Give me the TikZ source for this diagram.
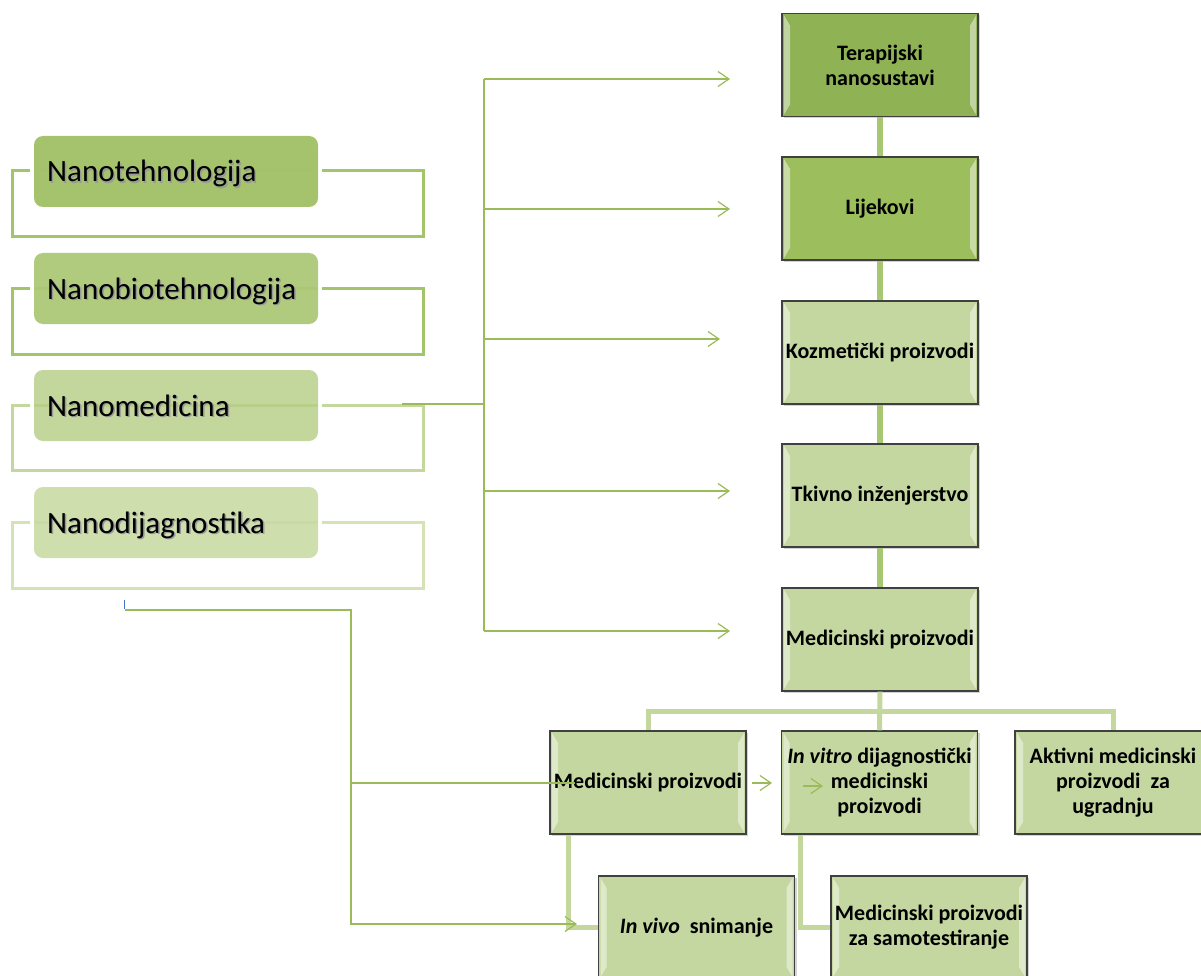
\documentclass[tikz,border=0pt]{standalone}
\usepackage{fontspec}
\setmainfont{Carlito}
\usetikzlibrary{arrows.meta,shadows,calc}
\definecolor{cT}{RGB}{142,178,84}
\definecolor{cL}{RGB}{156,190,92}
\definecolor{cP}{RGB}{196,215,160}
\definecolor{lA}{RGB}{165,194,108}
\definecolor{lB}{RGB}{177,203,126}
\definecolor{lC}{RGB}{195,214,155}
\definecolor{lD}{RGB}{206,222,172}
\definecolor{bA}{RGB}{163,196,104}
\definecolor{bC}{RGB}{196,215,157}
\definecolor{bD}{RGB}{212,226,182}
\definecolor{thinG}{RGB}{155,187,89}
\definecolor{vG}{RGB}{168,199,115}
\definecolor{hG}{RGB}{196,215,157}
\definecolor{tickB}{RGB}{68,114,196}
\tikzset{
  lbox/.style={rounded corners=9pt, minimum width=284pt, minimum height=71pt, inner sep=0pt},
  ltext/.style={anchor=base west, inner sep=0pt, font=\fontsize{31}{36}\selectfont},
  bracket/.style={line width=3pt, line join=miter},
  rbox/.style={draw=black!75, line width=1.2pt, minimum width=195pt, minimum height=103pt,
    inner sep=2pt, text width=192pt, align=flush center, font=\fontsize{22}{25}\selectfont\bfseries,
    drop shadow={opacity=0.35, shadow xshift=2pt, shadow yshift=-2pt},
    path picture={
      \fill[white,opacity=0.45]
        ([xshift=2pt,yshift=-2pt]path picture bounding box.north west) -- ++(6pt,-10pt)
        -- ([xshift=8pt,yshift=12pt]path picture bounding box.south west)
        -- ([xshift=2pt,yshift=2pt]path picture bounding box.south west) -- cycle;
      \fill[white,opacity=0.45]
        ([xshift=-2pt,yshift=-2pt]path picture bounding box.north east) -- ++(-6pt,-10pt)
        -- ([xshift=-8pt,yshift=12pt]path picture bounding box.south east)
        -- ([xshift=-2pt,yshift=2pt]path picture bounding box.south east) -- cycle;
    }},
  thinline/.style={draw=thinG, line width=1.4pt},
  arr/.style={thinline, -{Straight Barb[length=11pt,width=15pt,line width=1.2pt]}},
  vline/.style={draw=vG, line width=6pt},
  hline/.style={draw=hG, line width=5pt}
}
\begin{document}
\begin{tikzpicture}[x=1pt,y=-1pt]
\useasboundingbox (0,0) rectangle (1201,976);
\clip (0,0) rectangle (1201,976);

% ---------- left group ----------
\draw[bracket,draw=bA] (30,171) -- (12,171) -- (12,237) -- (423,237) -- (423,171) -- (322,171);
\draw[bracket,draw=bA] (30,288) -- (12,288) -- (12,354) -- (423,354) -- (423,288) -- (322,288);
\draw[bracket,draw=bC] (30,405) -- (12,405) -- (12,470) -- (423,470) -- (423,405) -- (322,405);
\draw[bracket,draw=bD] (30,522) -- (12,522) -- (12,588) -- (423,588) -- (423,522) -- (322,522);

\node[lbox, fill=lA] (nt) at (176,171.5) {};
\node[lbox, fill=lB] (nb) at (176,288.5) {};
\node[lbox, fill=lC] (nm) at (176,405.5) {};
\node[lbox, fill=lD] (nd) at (176,522.5) {};

\draw[line width=3pt, draw=bA, opacity=0.45] (nt.west |- 0,171) -- (nt.east |- 0,171);
\draw[line width=3pt, draw=bA, opacity=0.45] (nb.west |- 0,288) -- (nb.east |- 0,288);
\draw[line width=3pt, draw=bA, opacity=0.35] (nm.west |- 0,405) -- (nm.east |- 0,405);
\draw[line width=3pt, draw=bC, opacity=0.45] (nd.west |- 0,522) -- (nd.east |- 0,522);

\node[ltext, text=black!40] at (48.5,183.5) {Nanotehnologija};
\node[ltext] (ntl) at (47,182) {Nanotehnologija};
\node[ltext, text=black!40] at (48.5,300.5) {Nanobiotehnologija};
\node[ltext] (nbl) at (47,299) {Nanobiotehnologija};
\node[ltext, text=black!40] at (48.5,417.5) {Nanomedicina};
\node[ltext] (nml) at (47,416) {Nanomedicina};
\node[ltext, text=black!40] at (48.5,534.5) {Nanodijagnostika};
\node[ltext] (ndl) at (47,533) {Nanodijagnostika};

% ---------- bus from Nanomedicina ----------
\coordinate (mstart) at (402,404);
\coordinate (bus) at (484,404);
\coordinate (busTop) at (484,79);
\coordinate (busBot) at (484,631);
\draw[thinline] (mstart) -- (bus);
\draw[thinline] (busTop) -- (busBot);
\coordinate (a1) at (730,79);
\coordinate (a2) at (730,209);
\coordinate (a3) at (720,339);
\coordinate (a4) at (730,491);
\coordinate (a5) at (730,631);
\draw[arr] (busTop) -- (a1);
\draw[arr] (busTop |- a2) -- (a2);
\draw[arr] (busTop |- a3) -- (a3);
\draw[arr] (busTop |- a4) -- (a4);
\draw[arr] (busBot) -- (a5);

% ---------- right column ----------
\node[rbox, fill=cT] (T) at (880,65) {Terapijski\\nanosustavi};
\node[rbox, fill=cL] (L) at (880,208.5) {Lijekovi};
\node[rbox, fill=cP] (K) at (880,352.5) {Kozmetički proizvodi};
\node[rbox, fill=cP] (Tk) at (880,495.5) {Tkivno inženjerstvo};
\node[rbox, fill=cP] (M) at (880,639.5) {Medicinski proizvodi};

\draw[vline] (T.south) -- (L.north);
\draw[vline] (L.south) -- (K.north);
\draw[vline] (K.south) -- (Tk.north);
\draw[vline] (Tk.south) -- (M.north);

% ---------- bottom rows ----------
\node[rbox, fill=cP] (MP) at (648,782.5) {Medicinski proizvodi};
\node[rbox, fill=cP] (IV) at (879.5,782.5) {\textit{In vitro} dijagnostički\\medicinski\\proizvodi};
\node[rbox, fill=cP] (AMP) at (1113,782.5) {Aktivni medicinski\\proizvodi~ za\\ugradnju};
\node[rbox, fill=cP] (IVS) at (696.5,927.5) {\textit{In vivo}~ snimanje};
\node[rbox, fill=cP] (MS) at (929,927.5) {Medicinski proizvodi\\za samotestiranje};

\coordinate (hbar) at ($(M.south)!0.5!(IV.north)$);
\draw[hline] (M.south) -- (IV.north);
\draw[hline] (MP.north) |- (hbar) -| (AMP.north);
\draw[hline] ([xshift=19pt]MP.south west) |- (IVS.west);
\draw[hline] ([xshift=20pt]IV.south west) |- (MS.west);

% ---------- Nanodijagnostika link ----------
\draw[draw=tickB, line width=1pt] (124,600) -- (124,609);
\coordinate (dstart) at (125,610);
\coordinate (dcorner) at (351,610);
\coordinate (dmid) at (351,783);
\coordinate (dend) at (577,924);
\coordinate (dmp) at (575,783);
\draw[arr] (dstart) -- (dcorner) |- (dend);
\draw[thinline] (dmid) -- (dmp);
\coordinate (s1) at (752,783);
\coordinate (e1) at (772,783);
\coordinate (s2) at (803,786);
\coordinate (e2) at (823,786);
\draw[arr] (s1) -- (e1);
\draw[arr] (s2) -- (e2);
\end{tikzpicture}
\end{document}
